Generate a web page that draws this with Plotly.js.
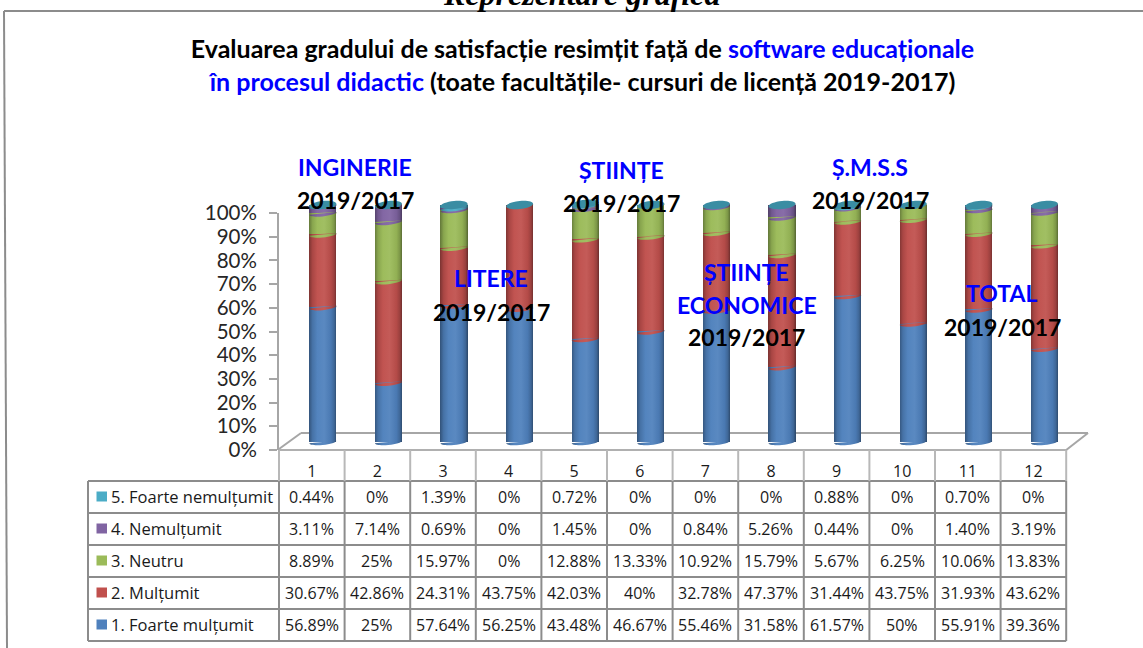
<!DOCTYPE html>
<html><head><meta charset="utf-8">
<script src="https://cdn.plot.ly/plotly-3.0.1.min.js"></script>
<style>html,body{margin:0;padding:0;background:#fff;overflow:hidden}</style>
</head><body><div id="chart" style="width:1143px;height:648px"></div>
<script>
const categories = [1,2,3,4,5,6,7,8,9,10,11,12];
const foarteMultumit = [56.89,25,57.64,56.25,43.48,46.67,55.46,31.58,61.57,50,55.91,39.36];
const multumit = [30.67,42.86,24.31,43.75,42.03,40,32.78,47.37,31.44,43.75,31.93,43.62];
const neutru = [8.89,25,15.97,0,12.88,13.33,10.92,15.79,5.67,6.25,10.06,13.83];
const nemultumit = [3.11,7.14,0.69,0,1.45,0,0.84,5.26,0.44,0,1.40,3.19];
const foarteNemultumit = [0.44,0,1.39,0,0.72,0,0,0,0.88,0,0.70,0];
const seriesNames = ['1. Foarte mulțumit','2. Mulțumit','3. Neutru','4. Nemulțumit','5. Foarte nemulțumit'];
const seriesColors = ['#4F81BD','#C0504D','#9BBB59','#8064A2','#4BACC6'];
const seriesValues = [foarteMultumit,multumit,neutru,nemultumit,foarteNemultumit];
const titleLine1 = 'Evaluarea gradului de satisfacție resimțit față de <span style="color:#0000ff">software educaționale</span>';
const titleLine2 = '<span style="color:#0000ff">în procesul didactic</span> (toate facultățile- cursuri de licență 2019-2017)';
const groupLabels = [
  {t:'INGINERIE',x:355,y:167,c:'#0000ff'},{t:'2019/2017',x:355,y:200,c:'#000'},
  {t:'ȘTIINȚE',x:621,y:170,c:'#0000ff'},{t:'2019/2017',x:622,y:203,c:'#000'},
  {t:'LITERE',x:491,y:278,c:'#0000ff'},{t:'2019/2017',x:491,y:312,c:'#000'},
  {t:'ȘTIINȚE',x:746,y:272,c:'#0000ff'},{t:'ECONOMICE',x:747,y:305,c:'#0000ff'},{t:'2019/2017',x:746,y:337,c:'#000'},
  {t:'Ș.M.S.S',x:870,y:167,c:'#0000ff'},{t:'2019/2017',x:870,y:200,c:'#000'},
  {t:'TOTAL',x:1001,y:293,c:'#0000ff'},{t:'2019/2017',x:1002,y:327,c:'#000'}
];

const W=1143,H=648,px=x=>x/W,py=y=>1-y/H;
const FONT='Lato, "Noto Sans", sans-serif';
const TABLE_FONT='"Open Sans", "Noto Sans", sans-serif';
const fmt=v=>Number.isInteger(v)?v+'%':v.toFixed(2)+'%';

// ---- geometry of the page
const colL=279,colW=65.6,nCol=categories.length,colR=colL+colW*nCol;
const rowLines=[481,513,545,577,609,641],tabL=88,hdrTop=450;
const y0px=442,y100px=205,unit=(y0px-y100px)/100;
const barHalf=0.205,tilt=1.3/unit,bulge=3/unit,capB=4/unit;

// ---- ellipse helpers, in data units
function ellipsePts(x,v,b){return {L:[x-barHalf,v-tilt],R:[x+barHalf,v+tilt],B:[x,v-b],T:[x,v+b],U:[barHalf,tilt],b};}
const k=0.5523;
function front(x,v,b){const e=ellipsePts(x,v,b);
  return `M${e.L[0]},${e.L[1]} C${e.L[0]},${e.L[1]-k*b} ${e.B[0]-k*e.U[0]},${e.B[1]-k*e.U[1]} ${e.B[0]},${e.B[1]} C${e.B[0]+k*e.U[0]},${e.B[1]+k*e.U[1]} ${e.R[0]},${e.R[1]-k*b} ${e.R[0]},${e.R[1]} Z`;}
function full(x,v,b){const e=ellipsePts(x,v,b);
  return front(x,v,b).replace(' Z','')+` C${e.R[0]},${e.R[1]+k*b} ${e.T[0]+k*e.U[0]},${e.T[1]+k*e.U[1]} ${e.T[0]},${e.T[1]} C${e.T[0]-k*e.U[0]},${e.T[1]-k*e.U[1]} ${e.L[0]},${e.L[1]+k*b} ${e.L[0]},${e.L[1]} Z`;}
// the sliver that keeps the lower colour up to the slanted joint on the right side
function wedge(x,v){return `M${x-barHalf},${v} L${x+barHalf},${v} L${x+barHalf},${v+tilt} Z`;}

const shapes=[];
function line(x0,y0,x1,y1,color,width,layer){shapes.push({type:'line',xref:'paper',yref:'paper',x0:px(x0),y0:py(y0),x1:px(x1),y1:py(y1),line:{color,width},layer:layer||'above'});}
function barShape(path,color){shapes.push({type:'path',xref:'x2',yref:'y2',path,fillcolor:color,line:{width:0},layer:'above'});}

// bar shapes (joints + caps), all computed from the series
categories.forEach((c,i)=>{
  let acc=0,last=-1;
  seriesValues.forEach((s,j)=>{
    if(s[i]>0){
      if(last>=0)barShape(wedge(c,acc),seriesColors[last]);
      barShape(front(c,acc,bulge),seriesColors[j]);
      last=j;
    }
    acc+=s[i];
  });
  barShape(wedge(c,acc),seriesColors[last]);
  barShape(full(c,acc,capB),'#3A8DA3');
});
const nBarShapes=shapes.length;

// frame
line(4,11,1143,11,'#8c8c8c',2,'below');
line(4,11,7,648,'#8c8c8c',2,'below');
// floor
line(colL,449,301,433,'#a6a6a6',2,'below');
line(301,433,1088,433,'#a6a6a6',2,'below');
line(1088,433,colR,450,'#a6a6a6',2,'below');
line(colL,hdrTop,colR,hdrTop,'#b0b0b0',2,'below');
// table grid
rowLines.forEach(y=>line(tabL,y,colR,y,'#8c8c8c',2,'below'));
line(tabL,rowLines[0],tabL,rowLines[5],'#8c8c8c',2,'below');
for(let i=0;i<=nCol;i++){
  const x=colL+colW*i;
  line(x,hdrTop,x,rowLines[0],'#b8b8b8',2,'below');
  line(x,rowLines[0],x,rowLines[5],'#8c8c8c',2,'below');
}

// annotations
const annotations=[];
function note(text,x,y,font,opts){annotations.push(Object.assign({text,xref:'paper',yref:'paper',x:px(x),y:py(y),xanchor:'center',yanchor:'middle',showarrow:false,font,borderpad:0},opts||{}));}
note('Reprezentare grafică',581,-6,{family:'"Liberation Serif",serif',size:32,color:'#000',weight:700,style:'italic'});
groupLabels.forEach(g=>note(g.t,g.x,g.y,{family:FONT,size:23,color:g.c,weight:700}));
// data table, top row = series 5
const tableFont={family:TABLE_FONT,size:16,color:'#1a1a1a'};
const legendFont={family:TABLE_FONT,size:16.5,color:'#1a1a1a'};
for(let r=0;r<5;r++){
  const j=4-r,yc=(rowLines[r]+rowLines[r+1])/2-0.5;
  note(seriesNames[j],110,yc,legendFont,{xanchor:'left'});
  shapes.push({type:'rect',xref:'paper',yref:'paper',x0:px(96.5),x1:px(107),y0:py(yc-5),y1:py(yc+5),fillcolor:seriesColors[j],line:{width:0},layer:'above'});
  categories.forEach((c,i)=>note(fmt(seriesValues[j][i]),colL+colW*(i+.5),yc,tableFont));
}

const traces=seriesValues.map((s,j)=>({type:'bar',name:seriesNames[j],x:categories,y:s,xaxis:'x2',yaxis:'y2',marker:{color:seriesColors[j],line:{width:0}},hoverinfo:'skip',showlegend:false}));
traces.unshift({type:'scatter',mode:'none',x:categories,y:foarteMultumit,xaxis:'x',yaxis:'y',hoverinfo:'skip',showlegend:false});

const yMin=-10,yMax=110;
const layout={
  width:W,height:H,margin:{l:0,r:0,t:0,b:0,pad:0},paper_bgcolor:'#fff',plot_bgcolor:'rgba(0,0,0,0)',
  barmode:'stack',bargap:0.585,showlegend:false,
  title:{text:titleLine1+'<br>'+titleLine2,
    font:{family:FONT,size:25,color:'#000',weight:700},x:582.5/W,xanchor:'center',y:py(58),yanchor:'middle',automargin:false},
  xaxis:{domain:[px(colL),px(colR)],range:[0.5,12.5],tickvals:categories,ticktext:categories.map(String),tickfont:tableFont,
    ticks:'',showgrid:false,zeroline:false,showline:false,ticklabelstandoff:10,fixedrange:true},
  yaxis:{domain:[py(450),py(213)],range:[0,100],dtick:10,ticksuffix:'%',tickfont:{family:FONT,size:20.5,color:'#262626'},ticks:'outside',ticklen:8,tickwidth:2,tickcolor:'#a6a6a6',
    showline:true,linecolor:'#a6a6a6',linewidth:2,showgrid:false,zeroline:false,ticklabelstandoff:8,fixedrange:true},
  xaxis2:{domain:[px(colL+11),px(colR+11)],range:[0.5,12.5],visible:false,anchor:'y2',fixedrange:true},
  yaxis2:{domain:[py(y0px-yMin*unit),py(y0px-yMax*unit)],range:[yMin,yMax],visible:false,anchor:'x2',fixedrange:true},
  shapes,annotations
};

Plotly.newPlot('chart',traces,layout,{displayModeBar:false,staticPlot:true}).then(gd=>{
  // cylinder shading on the bars and their joints
  const svg=gd.querySelector('.main-svg');
  const NS='http://www.w3.org/2000/svg';
  const defs=document.createElementNS(NS,'defs');
  const shade=[[0,-.34],[.12,-.12],[.3,.02],[.55,.06],[.8,-.06],[.92,-.2],[1,-.42]];
  const toRgb=h=>[1,3,5].map(p=>parseInt(h.substr(p,2),16));
  const map={};
  seriesColors.forEach((h,i)=>{
    const rgb=toRgb(h),g=document.createElementNS(NS,'linearGradient');
    g.setAttribute('id','cyl'+i);g.setAttribute('x1','0');g.setAttribute('x2','1');g.setAttribute('y1','0');g.setAttribute('y2','0');
    shade.forEach(([o,d])=>{
      const st=document.createElementNS(NS,'stop');st.setAttribute('offset',o);
      const c=rgb.map(v=>Math.round(d<0?v*(1+d):v+(255-v)*d));
      st.setAttribute('stop-color','rgb('+c.join(',')+')');g.appendChild(st);
    });
    defs.appendChild(g);map[rgb.join(',')]='url(#cyl'+i+')';
  });
  svg.insertBefore(defs,svg.firstChild);
  const apply=el=>{const f=(el.style.fill||'').replace(/[^\d,]/g,'');if(map[f])el.style.fill=map[f];};
  gd.querySelectorAll('.barlayer .point path').forEach(apply);
  gd.querySelectorAll('.shapelayer path[data-index]').forEach(el=>{if(+el.getAttribute('data-index')<nBarShapes)apply(el);});
});
</script></body></html>
